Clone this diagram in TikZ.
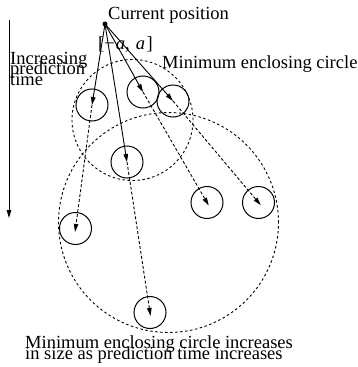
\documentclass[tikz,border=0pt]{standalone}
\usepackage{fontspec}
\setmainfont{Liberation Serif}
\usetikzlibrary{arrows.meta}
\begin{document}
\begin{tikzpicture}[x=1pt,y=-1pt,
  txt/.style={anchor=base west,inner sep=0pt,font=\fontsize{18.5}{18.5}\selectfont},
  poscircle/.style={circle,draw,line width=1pt,minimum size=32pt,inner sep=0pt},
  enccircle/.style={circle,draw,line width=0.9pt,dash pattern=on 2.5pt off 2.5pt,inner sep=0pt},
  tipstyle/.style={-{Triangle[length=8pt,width=4.5pt]}},
  solidarrow/.style={tipstyle,line width=0.9pt},
  dasharrow/.style={tipstyle,line width=0.9pt,dash pattern=on 3pt off 2pt,shorten >=-3.5pt}]
\useasboundingbox (0,0) rectangle (358,367);
% enclosing circles
\node[enccircle,minimum size=121pt] (mec1) at (132.5,120) {};
\node[enccircle,minimum size=220pt] (mec2) at (168.5,222.5) {};
% position circles
\node[poscircle] (A) at (92,105) {};
\node[poscircle] (B) at (143,92) {};
\node[poscircle] (C) at (173,101) {};
\node[poscircle] (D) at (127,162) {};
\node[poscircle] (E) at (75.5,228.5) {};
\node[poscircle] (F) at (207,202.5) {};
\node[poscircle] (G) at (258.5,202.5) {};
\node[poscircle] (H) at (150,312.5) {};
% current position
\node[circle,fill,minimum size=5pt,inner sep=0pt] (cur) at (105,24) {};
% arrows
\draw[solidarrow] (cur.center) -- (A.center);
\draw[solidarrow] (cur.center) -- (B.center);
\draw[solidarrow] (cur.center) -- (C.center);
\draw[solidarrow] (cur.center) -- (D.center);
\draw[dasharrow] (A.center) -- (E.center);
\draw[dasharrow] (B.center) -- (F.center);
\draw[dasharrow] (C.center) -- (G.center);
\draw[dasharrow] (D.center) -- (H.center);
% time axis
\coordinate (tstart) at (9,20);
\coordinate (tend) at (9,218);
\draw[solidarrow] (tstart) -- (tend);
% labels
\node[txt] (lcur) at (108,19) {Current position};
\node[txt] (lrange) at (98,49.5) {[−\kern1pt\textit{a}, \hspace{1.5pt}\textit{a}\kern1.5pt]};
\node[txt] (lmec) at (162,68) {Minimum enclosing circle};
\node[txt] (lt1) at (10,64) {Increasing};
\node[txt] (lt2) at (10,74.5) {prediction};
\node[txt] (lt3) at (10,85.5) {time};
\node[txt] (lb1) at (25,348.5) {Minimum enclosing circle increases};
\node[txt] (lb2) at (25,359.5) {in size as prediction time increases};
\end{tikzpicture}
\end{document}
